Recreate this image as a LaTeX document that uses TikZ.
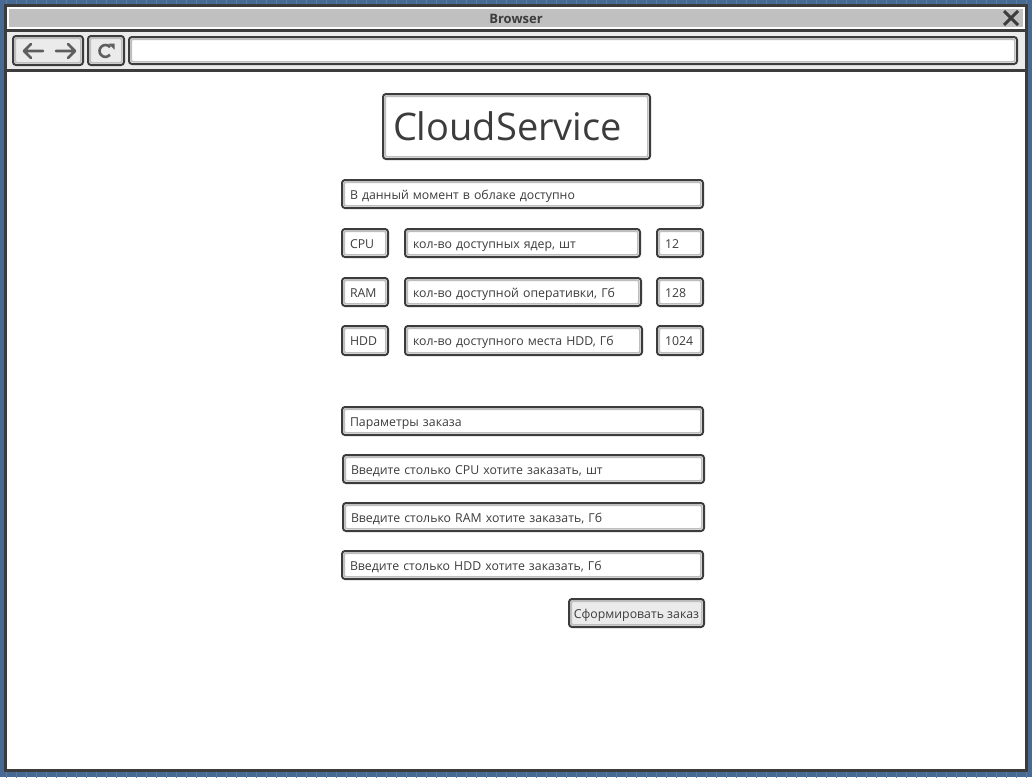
\documentclass[tikz,border=0pt]{standalone}
\usepackage{fontspec}
\setmainfont{Open Sans}
\usetikzlibrary{arrows.meta}
\definecolor{bg}{HTML}{476A93}
\definecolor{gridc}{HTML}{5A7CA4}
\definecolor{dk}{HTML}{3C3C3C}
\definecolor{tbar}{HTML}{C0C0C0}
\definecolor{lg}{HTML}{EBEBEB}
\definecolor{ig}{HTML}{BEBEBE}
\definecolor{icon}{HTML}{5E5E5E}
\begin{document}
\begin{tikzpicture}[x=1pt,y=-1pt,
  wbox/.style={draw=dk, line width=2pt, rounded corners=3pt, fill=white, text=dk,
    inner xsep=8pt, inner ysep=0pt, align=left, font=\fontsize{12.3}{14}\selectfont,
    path picture={\draw[ig, line width=1.6pt, rounded corners=2pt]
      ([shift={(2.2pt,-2.2pt)}]path picture bounding box.north west) rectangle
      ([shift={(-2.2pt,2.2pt)}]path picture bounding box.south east);}},
  row/.style={wbox, minimum height=28pt, text height=11pt, text depth=1pt},
  btn/.style={wbox, fill=lg, align=center},
  iconline/.style={icon, line width=2.6pt, line cap=round, line join=round}
]
\useasboundingbox (0,0) rectangle (1032,777);
% background
\fill[bg] (0,0) rectangle (1032,777);
\begin{scope}
\clip (0,0) rectangle (1032,777);
\draw[gridc, line width=0.6pt, shift={(6,8)}, step=10] (-10,-10) grid (1040,780);
\end{scope}
% window
\draw[dk, line width=3pt, fill=white] (5.5,5.5) rectangle (1026.5,770.5);
\fill[tbar] (9,9) rectangle (1023,27);
\fill[lg] (7,32) rectangle (1025,69);
\draw[dk, line width=3pt] (7,30.5) -- (1025,30.5);
\draw[dk, line width=3pt] (7,70.5) -- (1025,70.5);
\node[text=dk, font=\fontsize{13}{13}\selectfont\bfseries] (title) at (516,18.5) {Browser};
\draw[dk, line width=3pt] (1004,11) -- (1018,25) (1004,25) -- (1018,11);
% toolbar
\node[btn, minimum width=70pt, minimum height=29pt] (nav) at (48,50.5) {};
\node[btn, minimum width=36pt, minimum height=29pt] (reload) at (106,50.5) {};
\node[wbox, minimum width=888pt, minimum height=27pt] (addr) at (573,50.5) {};
\draw[iconline] (43,51) -- (24,51) (31,44) -- (24,51) -- (31,58);
\draw[iconline] (56,51) -- (75,51) (68,44) -- (75,51) -- (68,58);
\draw[icon, line width=2.6pt] (105.5,51) ++(-40:6) arc[start angle=-40, end angle=-320, radius=6];
\fill[icon] (108.5,43.5) -- (114.5,43.5) -- (114.5,49.5) -- cycle;
% content
\node[wbox, minimum width=267pt, minimum height=65pt, inner xsep=10pt, text width=247pt,
  font=\fontsize{38}{42}\selectfont] (cloud) at (516.5,126.5) {CloudService};
\node[row, minimum width=361pt, text width=345pt] (avail) at (522.5,194) {В данный момент в облаке доступно};

\node[row, minimum width=46pt, text width=30pt] (cpu) at (365,243) {CPU};
\node[row, minimum width=235pt, text width=219pt] (cpud) at (522.5,243) {кол-во доступных ядер, шт};
\node[row, minimum width=46pt, text width=30pt] (cpuv) at (680,243) {12};

\node[row, minimum width=46pt, text width=30pt] (ram) at (365,292) {RAM};
\node[row, minimum width=236pt, text width=220pt] (ramd) at (523,292) {кол-во доступной оперативки, Гб};
\node[row, minimum width=46pt, text width=30pt] (ramv) at (680,292) {128};

\node[row, minimum width=46pt, text width=30pt, minimum height=29pt] (hdd) at (365,340.5) {HDD};
\node[row, minimum width=237pt, text width=221pt, minimum height=29pt] (hddd) at (523.5,340.5) {кол-во доступного места HDD, Гб};
\node[row, minimum width=46pt, text width=30pt, minimum height=29pt] (hddv) at (680,340.5) {1024};

\node[row, minimum width=361pt, text width=345pt] (params) at (522.5,421) {Параметры заказа};
\node[row, minimum width=361pt, text width=345pt] (incpu) at (523.5,469) {Введите столько CPU хотите заказать, шт};
\node[row, minimum width=361pt, text width=345pt] (inram) at (523.5,517) {Введите столько RAM хотите заказать, Гб};
\node[row, minimum width=361pt, text width=345pt] (inhdd) at (522.5,565) {Введите столько HDD хотите заказать, Гб};
\node[btn, minimum width=135pt, minimum height=28pt, inner xsep=2pt, text height=11pt, text depth=1pt] (order) at (636.5,613) {Сформировать заказ};
\end{tikzpicture}
\end{document}
